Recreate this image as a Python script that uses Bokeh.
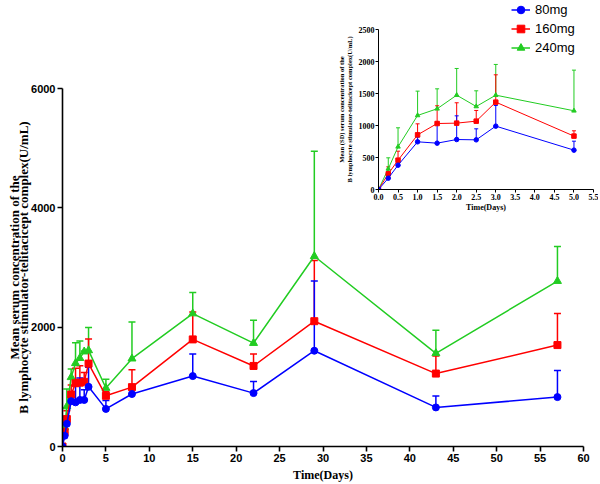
from bokeh.plotting import figure
from bokeh.models import (ColumnDataSource, Range1d, Whisker, TeeHead, Legend, LegendItem,
                          SingleIntervalTicker, PrintfTickFormatter, LinearAxis, FixedTicker)
from bokeh.layouts import column
from bokeh.embed import file_html
from bokeh.resources import INLINE

# ---------------- data (main plot) ----------------
days = [0, 0.25, 0.5, 1, 1.5, 2, 2.5, 3, 5, 8, 15, 22, 29, 43, 57]
mean_80 = [0, 180, 380, 760, 740, 780, 780, 1000, 630, 880, 1180, 895, 1605, 655, 828]
sd_top_80 = [0, 230, 450, 830, 1050, 1150, 950, 1330, 772, 960, 1550, 1088, 2772, 845, 1272]
mean_160 = [0, 245, 460, 870, 1060, 1070, 1085, 1390, 850, 995, 1795, 1350, 2100, 1222, 1700]
sd_top_160 = [0, 360, 600, 1030, 1310, 1355, 1240, 1800, 920, 1288, 2255, 1550, 3117, 1517, 2228]
mean_240 = [0, 320, 670, 1160, 1395, 1480, 1590, 1610, 980, 1472, 2228, 1733, 3189, 1562, 2772]
sd_top_240 = [0, 495, 964, 1300, 1740, 1770, 1600, 1995, 1128, 2088, 2583, 2117, 4950, 1950, 3350]

# ---------------- data (inset, first 5 days) ----------------
inset_days = [0, 0.25, 0.5, 1, 1.5, 2, 2.5, 3, 5]
inset_80 = [0, 177, 380, 745, 724, 781, 776, 990, 615]
inset_top_80 = [0, 220, 427, 818, 1052, 1151, 948, 1313, 755]
inset_160 = [0, 245, 458, 854, 1031, 1037, 1068, 1365, 834]
inset_top_160 = [0, 354, 599, 1026, 1308, 1355, 1235, 1792, 917]
inset_240 = [0, 323, 667, 1157, 1261, 1474, 1297, 1474, 1230]
inset_top_240 = [0, 495, 964, 1537, 1573, 1891, 1542, 1954, 1865]

dose_labels = ["80mg", "160mg", "240mg"]
colors = ["#0000ff", "#ff0000", "#22cc22"]
markers = ["circle", "square", "triangle"]

SANS = "Liberation Sans"
SERIF = "Liberation Serif"

MAIN_W, MAIN_H = 598, 484
INS_W, INS_H = 267, 214
LEG_W, LEG_H = 85, 58

# ---------------- main figure ----------------
p = figure(width=MAIN_W, height=MAIN_H, output_backend="svg", toolbar_location=None,
           x_range=Range1d(0, 60), y_range=Range1d(0, 6000),
           min_border_left=62, min_border_right=15, min_border_top=88, min_border_bottom=37)
p.frame_align = False
p.outline_line_color = None
p.xgrid.grid_line_color = None
p.ygrid.grid_line_color = None
p.xaxis.ticker = SingleIntervalTicker(interval=5, num_minor_ticks=0)
p.yaxis.ticker = SingleIntervalTicker(interval=2000, num_minor_ticks=0)
for ax in (p.xaxis, p.yaxis):
    ax.axis_line_width = 1.6
    ax.major_tick_line_width = 1.6
    ax.major_tick_out = 5
    ax.major_tick_in = 0
    ax.minor_tick_line_color = None
    ax.major_label_text_font = SANS
    ax.major_label_text_font_style = "bold"
    ax.major_label_text_font_size = "11px"
    ax.major_label_text_color = "black"
    ax.major_label_standoff = 2
    ax.axis_label_text_font = SERIF
    ax.axis_label_text_font_style = "bold"
    ax.axis_label_text_color = "black"

p.xaxis.axis_label = "Time(Days)"
p.xaxis.axis_label_text_font_size = "12px"
p.xaxis.axis_label_standoff = 3
p.yaxis.axis_label = "B lymphocyte stimulator-telitacicept complex(U/mL)"
p.yaxis.axis_label_text_font_size = "13px"
p.yaxis.axis_label_standoff = -3

y_outer = LinearAxis(ticker=FixedTicker(ticks=[]), axis_line_color=None,
                     major_tick_out=0, major_tick_in=0, minor_tick_line_color=None,
                     major_label_standoff=0,
                     axis_label="Mean serum concentration of the",
                     axis_label_text_font=SERIF, axis_label_text_font_style="bold",
                     axis_label_text_font_size="13px", axis_label_text_color="black",
                     axis_label_standoff=-8)
p.add_layout(y_outer, "left")

main_series = [(mean_80, sd_top_80), (mean_160, sd_top_160), (mean_240, sd_top_240)]
order = [2, 1, 0]
for i in order:
    m, top = main_series[i]
    src = ColumnDataSource(dict(t=days, v=m, top=top))
    p.add_layout(Whisker(source=src, base="t", lower="v", upper="top", dimension="height",
                         line_color=colors[i], line_width=1.5,
                         upper_head=TeeHead(size=7, line_color=colors[i], line_width=1.5),
                         lower_head=None))
    p.line("t", "v", source=src, line_color=colors[i], line_width=1.5)
    p.scatter("t", "v", source=src, marker=markers[i], size=7 if i != 2 else 8,
              fill_color=colors[i], line_color=colors[i])

# ---------------- inset figure ----------------
ins = figure(width=INS_W, height=INS_H, output_backend="svg", toolbar_location=None,
             x_range=Range1d(0, 5.5), y_range=Range1d(0, 2500),
             min_border_left=47, min_border_right=5, min_border_top=29, min_border_bottom=25)
ins.frame_align = False
ins.background_fill_alpha = 0
ins.border_fill_alpha = 0
ins.outline_line_color = None
ins.xgrid.grid_line_color = None
ins.ygrid.grid_line_color = None
ins.xaxis.ticker = SingleIntervalTicker(interval=0.5, num_minor_ticks=0)
ins.yaxis.ticker = SingleIntervalTicker(interval=500, num_minor_ticks=0)
ins.xaxis.formatter = PrintfTickFormatter(format="%.1f")
for ax in (ins.xaxis, ins.yaxis):
    ax.axis_line_width = 1
    ax.major_tick_line_width = 1
    ax.major_tick_out = 3
    ax.major_tick_in = 0
    ax.minor_tick_line_color = None
    ax.major_label_text_font = SERIF
    ax.major_label_text_font_style = "bold"
    ax.major_label_text_font_size = "8px"
    ax.major_label_text_color = "black"
    ax.major_label_standoff = 1
    ax.axis_label_text_font = SERIF
    ax.axis_label_text_font_style = "bold"
    ax.axis_label_text_color = "black"

ins.xaxis.axis_label = "Time(Days)"
ins.xaxis.axis_label_text_font_size = "8px"
ins.xaxis.axis_label_standoff = 0
ins.yaxis.axis_label = "B lymphocyte stimulator-telitacicept complex(U/mL)"
ins.yaxis.axis_label_text_font_size = "6.5px"
ins.yaxis.axis_label_standoff = 3
ins_outer = LinearAxis(ticker=FixedTicker(ticks=[]), axis_line_color=None,
                       major_tick_out=0, major_tick_in=0, minor_tick_line_color=None,
                       major_label_standoff=0,
                       axis_label="Mean (SD) serum concentration of the",
                       axis_label_text_font=SERIF, axis_label_text_font_style="bold",
                       axis_label_text_font_size="6.5px", axis_label_text_color="black",
                       axis_label_standoff=-2)
ins.add_layout(ins_outer, "left")

inset_series = [(inset_80, inset_top_80), (inset_160, inset_top_160), (inset_240, inset_top_240)]
for i in order:
    m, top = inset_series[i]
    src = ColumnDataSource(dict(t=inset_days, v=m, top=top))
    ins.add_layout(Whisker(source=src, base="t", lower="v", upper="top", dimension="height",
                           line_color=colors[i], line_width=1,
                           upper_head=TeeHead(size=4, line_color=colors[i], line_width=1),
                           lower_head=None))
    ins.line("t", "v", source=src, line_color=colors[i], line_width=1)
    ins.scatter("t", "v", source=src, marker=markers[i], size=4.5,
                fill_color=colors[i], line_color=colors[i])

# ---------------- legend (own small canvas, top right) ----------------
leg = figure(width=LEG_W, height=LEG_H, output_backend="svg", toolbar_location=None,
             x_axis_type=None, y_axis_type=None, min_border=0)
leg.frame_align = False
leg.background_fill_alpha = 0
leg.border_fill_alpha = 0
leg.outline_line_color = None
leg.xgrid.grid_line_color = None
leg.ygrid.grid_line_color = None
key_values = [mean_80, mean_160, mean_240]
items = []
for i in range(3):
    # one-point key sources (renderers hidden; only their legend swatches are shown)
    key_src = ColumnDataSource(dict(x=days[:1], y=key_values[i][:1]))
    lr = leg.line("x", "y", source=key_src, line_color=colors[i], line_width=1.5, visible=False)
    sr = leg.scatter("x", "y", source=key_src, marker=markers[i], size=8,
                     fill_color=colors[i], line_color=colors[i], visible=False)
    items.append(LegendItem(label=dose_labels[i], renderers=[lr, sr]))
legend = Legend(items=items, location="top_left",
                padding=0, margin=0, spacing=0, label_height=19, glyph_height=19,
                glyph_width=19, label_standoff=5, border_line_color=None,
                background_fill_alpha=0, inactive_fill_alpha=0,
                label_text_font=SANS, label_text_font_size="13px",
                label_text_color="black")
leg.add_layout(legend)

ins.margin = (-MAIN_H, 0, 0, 331)
leg.margin = (-INS_H, 0, 0, 511)

layout = column(p, ins, leg)
open("out.html", "w").write(file_html(layout, INLINE))
